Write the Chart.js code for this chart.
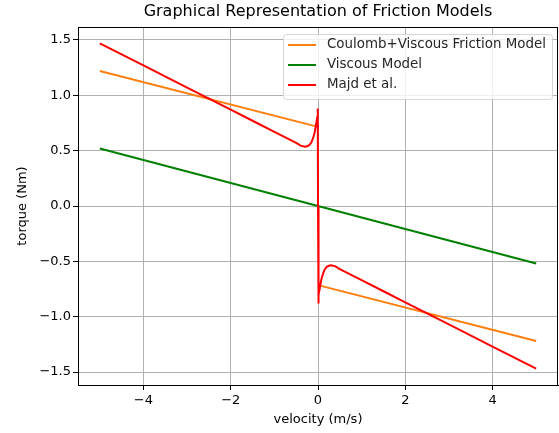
<!DOCTYPE html>
<html>
<head>
<meta charset="utf-8">
<title>Friction Models</title>
<script src="https://cdn.jsdelivr.net/npm/chart.js@4.4.0/dist/chart.umd.min.js"></script>
<style>
  body { margin: 0; background: #fff; }
</style>
</head>
<body>
<canvas id="c" width="559" height="433"></canvas>
<script>
// values
// (the orange jump at v=0 is hidden under the red curve, so it is left as a gap)
var coulombV = [-5, 0, 0, 0, 5];
var coulombT = [1.22, 0.715, null, -0.715, -1.22];

var viscousV = [-5, 0, 5];
var viscousT = [0.52, 0, -0.52];

var majdV = [-5, -4, -3, -2, -1.5, -1, -0.75, -0.5, -0.4, -0.3, -0.25, -0.2, -0.15, -0.1, -0.08, -0.06, -0.04, -0.02, -0.005, 0,
             0.005, 0.02, 0.04, 0.06, 0.08, 0.1, 0.15, 0.2, 0.25, 0.3, 0.4, 0.5, 0.75, 1, 1.5, 2, 3, 4, 5];
var majdT = [1.47, 1.27, 1.07, 0.87, 0.77, 0.67, 0.62, 0.57, 0.545, 0.535, 0.54, 0.55, 0.575, 0.63, 0.66, 0.70, 0.745, 0.80, 0.88, 0,
             -0.88, -0.80, -0.745, -0.70, -0.66, -0.63, -0.575, -0.55, -0.54, -0.535, -0.545, -0.57, -0.62, -0.67, -0.77, -0.87, -1.07, -1.27, -1.47];

var xTicks = [-4, -2, 0, 2, 4];
var yTicks = [-1.5, -1.0, -0.5, 0.0, 0.5, 1.0, 1.5];

var chartTitle = 'Graphical Representation of Friction Models';
var seriesNames = ['Coulomb+Viscous Friction Model', 'Viscous Model', 'Majd et al.'];
var seriesColors = ['#ff7f0e', '#008000', '#ff0000'];

function pts(xs, ys) {
    return xs.map(function(x, i) { return {x: x, y: ys[i]}; });
}

function minus(s) { return String(s).replace('-', '\u2212'); }

var FONT = 'DejaVu Sans';

// box round the plot, like matplotlib spines, and the title over the plot area
var frame = {
    id: 'frame',
    afterDraw: function(chart) {
        var a = chart.chartArea, ctx = chart.ctx;
        ctx.save();
        ctx.strokeStyle = '#000';
        ctx.lineWidth = 1;
        ctx.strokeRect(a.left + 0.5, a.top + 0.5, a.right - a.left - 1, a.bottom - a.top);
        ctx.font = '16px "' + FONT + '"';
        ctx.fillStyle = '#000';
        ctx.textAlign = 'center';
        ctx.textBaseline = 'middle';
        ctx.fillText(chartTitle, (a.left + a.right) / 2, 12);
        ctx.restore();
    }
};

// matplotlib style legend box in the upper right
var boxLegend = {
    id: 'boxLegend',
    afterDatasetsDraw: function(chart) {
        var ctx = chart.ctx;
        var x0 = 283, y0 = 34, w = 269, h = 65;
        ctx.save();
        ctx.beginPath();
        ctx.roundRect(x0 + 0.5, y0 + 0.5, w, h, 3);
        ctx.fillStyle = 'rgba(255,255,255,0.8)';
        ctx.fill();
        ctx.strokeStyle = '#d6d6d6';
        ctx.lineWidth = 1;
        ctx.stroke();
        ctx.font = '13.4px "' + FONT + '"';
        ctx.textBaseline = 'middle';
        chart.data.datasets.forEach(function(ds, i) {
            var y = 45 + i * 20;
            ctx.strokeStyle = ds.borderColor;
            ctx.lineWidth = 2;
            ctx.beginPath();
            ctx.moveTo(288, y);
            ctx.lineTo(316, y);
            ctx.stroke();
            ctx.fillStyle = '#262626';
            ctx.fillText(ds.label, 327, y);
        });
        ctx.restore();
    }
};

var datasets = [
    pts(coulombV, coulombT),
    pts(viscousV, viscousT),
    pts(majdV, majdT)
].map(function(d, i) {
    return {
        label: seriesNames[i],
        data: d,
        borderColor: seriesColors[i],
        backgroundColor: seriesColors[i],
        borderWidth: 2,
        pointRadius: 0,
        tension: 0,
        fill: false,
        spanGaps: false,
        order: 3 - i   // later series on top, as in matplotlib
    };
});

new Chart(document.getElementById('c'), {
    type: 'line',
    data: { datasets: datasets },
    plugins: [frame, boxLegend],
    options: {
        responsive: false,
        animation: false,
        layout: { padding: { left: 0, right: 1, top: 27, bottom: 0 } },
        plugins: {
            legend: { display: false },
            tooltip: { enabled: false },
            title: { display: false }
        },
        scales: {
            x: {
                type: 'linear',
                min: -5.5,
                max: 5.5,
                afterBuildTicks: function(s) { s.ticks = xTicks.map(function(v) { return {value: v}; }); },
                afterFit: function(s) { s.height = 48; },
                grid: { color: '#b0b0b0', tickColor: '#000', tickLength: 5 },
                border: { color: '#000' },
                ticks: {
                    color: '#000',
                    padding: 3,
                    maxRotation: 0,
                    font: { family: FONT, size: 13 },
                    callback: function(v) { return minus(v); }
                },
                title: {
                    display: true,
                    text: 'velocity (m/s)',
                    color: '#000',
                    font: { family: FONT, size: 13 },
                    padding: { top: 0, bottom: 6 }
                }
            },
            y: {
                min: -1.617,
                max: 1.617,
                afterBuildTicks: function(s) { s.ticks = yTicks.map(function(v) { return {value: v}; }); },
                afterFit: function(s) { s.width = 78; },
                grid: { color: '#b0b0b0', tickColor: '#000', tickLength: 5 },
                border: { color: '#000' },
                ticks: {
                    color: '#000',
                    padding: 2,
                    font: { family: FONT, size: 13 },
                    callback: function(v) { return minus(v.toFixed(1)); }
                },
                title: {
                    display: true,
                    text: 'torque (Nm)',
                    color: '#000',
                    font: { family: FONT, size: 13 },
                    padding: { top: 15, bottom: 0 }
                }
            }
        }
    }
});
</script>
</body>
</html>
